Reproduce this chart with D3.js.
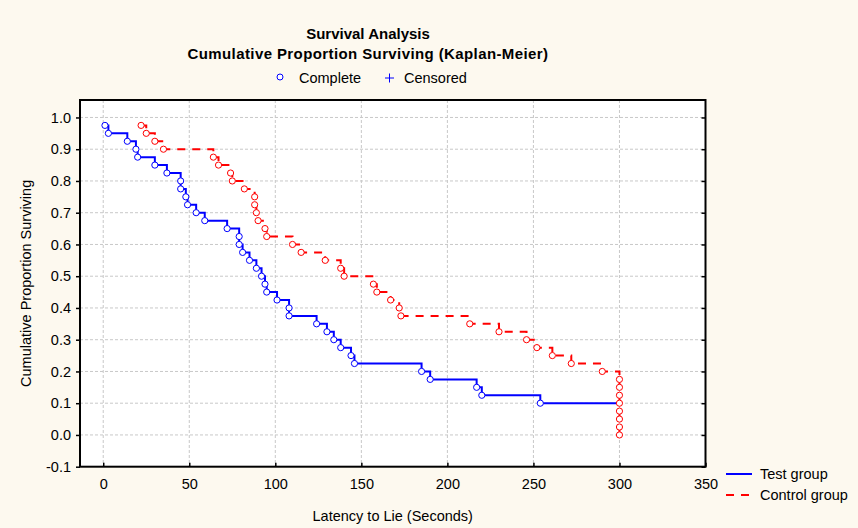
<!DOCTYPE html>
<html>
<head>
<meta charset="utf-8">
<script src="https://cdn.jsdelivr.net/npm/d3@7"></script>
<style>
  body { margin: 0; background: #fdf9ef; }
  svg { display: block; font-family: "Liberation Sans", Arial, sans-serif; }
</style>
</head>
<body>
<div id="chart"></div>
<script>
// event times (seconds) and cumulative proportion surviving
const testTimes = [1, 3, 14, 19, 20, 30, 37, 45, 45, 48, 49, 54, 59, 72, 79, 79, 81, 85, 89, 92,
    94, 95, 101, 108, 108, 124, 130, 134, 138, 144, 146, 185, 190, 217, 220, 254];
const testSurv = [0.975, 0.95, 0.925, 0.9, 0.875, 0.85, 0.825, 0.8, 0.775, 0.75, 0.725, 0.7, 0.675,
    0.65, 0.625, 0.6, 0.575, 0.55, 0.525, 0.5, 0.475, 0.45, 0.425, 0.4, 0.375, 0.35, 0.325, 0.3,
    0.275, 0.25, 0.225, 0.2, 0.175, 0.15, 0.125, 0.1];
const testEnd = [300, 0.1];

const controlTimes = [22, 25, 30, 35, 64, 67, 74, 75, 82, 88, 88, 89, 90, 94, 95, 110, 115, 129, 138, 140,
    157, 159, 167, 172, 173, 213, 230, 246, 252, 261, 272, 290, 300, 300, 300, 300, 300, 300, 300, 300];
const controlSurv = [0.975, 0.95, 0.925, 0.9, 0.875, 0.85, 0.825, 0.8, 0.775, 0.75, 0.725, 0.7, 0.675,
    0.65, 0.625, 0.6, 0.575, 0.55, 0.525, 0.5, 0.475, 0.45, 0.425, 0.4, 0.375, 0.35, 0.325, 0.3,
    0.275, 0.25, 0.225, 0.2, 0.175, 0.15, 0.125, 0.1, 0.075, 0.05, 0.025, 0.0];

const xTicks = [0, 50, 100, 150, 200, 250, 300, 350];
const yTicks = [-0.1, 0.0, 0.1, 0.2, 0.3, 0.4, 0.5, 0.6, 0.7, 0.8, 0.9, 1.0];

const width = 858, height = 528;
const plot = { left: 80, right: 705.5, top: 100, bottom: 466.7 };

const svg = d3.select("#chart").append("svg")
    .attr("width", width)
    .attr("height", height);

const x = d3.scaleLinear().domain([-13.5, 350]).range([plot.left, plot.right]);
const y = d3.scaleLinear().domain([-0.1, 1.055]).range([plot.bottom, plot.top]);

// plot background
svg.append("rect")
    .attr("x", plot.left).attr("y", plot.top)
    .attr("width", plot.right - plot.left).attr("height", plot.bottom - plot.top)
    .attr("fill", "#fff");

// grid
svg.append("g").selectAll("line")
    .data(xTicks.filter(d => d < 350))
    .enter().append("line")
    .attr("x1", d => x(d)).attr("x2", d => x(d))
    .attr("y1", plot.top).attr("y2", plot.bottom)
    .attr("stroke", "#c8c8c8").attr("stroke-dasharray", "3,2");
svg.append("g").selectAll("line")
    .data(yTicks.filter(d => d > -0.1))
    .enter().append("line")
    .attr("y1", d => y(d)).attr("y2", d => y(d))
    .attr("x1", plot.left).attr("x2", plot.right)
    .attr("stroke", "#c8c8c8").attr("stroke-dasharray", "3,2");

// axes
const fmt = d => d.toFixed(1);
const yAxis = svg.append("g")
    .attr("transform", "translate(" + plot.left + ",0)")
    .call(d3.axisLeft(y).tickValues(yTicks).tickFormat(fmt).tickSize(4).tickPadding(5));
const yAxisR = svg.append("g")
    .attr("transform", "translate(" + plot.right + ",0)")
    .call(d3.axisLeft(y).tickValues(yTicks).tickFormat("").tickSize(4));
const xAxis = svg.append("g")
    .attr("transform", "translate(0," + plot.bottom + ")")
    .call(d3.axisTop(x).tickValues(xTicks).tickFormat("").tickSize(4));
svg.append("g")
    .attr("transform", "translate(0," + plot.bottom + ")")
    .call(d3.axisBottom(x).tickValues(xTicks).tickSize(0).tickPadding(12))
    .call(g => g.select(".domain").remove());

[yAxis, yAxisR, xAxis].forEach(g => {
    g.select(".domain").remove();
    g.selectAll(".tick line").attr("stroke", "#000").attr("stroke-width", 1.5);
});
svg.selectAll(".tick text").attr("font-size", 14.5).attr("fill", "#000")
    .attr("font-family", "'Liberation Sans', Arial, sans-serif");

// frame
svg.append("rect")
    .attr("x", plot.left).attr("y", plot.top)
    .attr("width", plot.right - plot.left).attr("height", plot.bottom - plot.top)
    .attr("fill", "none").attr("stroke", "#000").attr("stroke-width", 2);

// curves
const line = d3.line()
    .x(d => x(d[0]))
    .y(d => y(d[1]))
    .curve(d3.curveStepAfter);

const testPts = testTimes.map((t, i) => [t, testSurv[i]]);
const controlPts = controlTimes.map((t, i) => [t, controlSurv[i]]);

svg.append("path")
    .datum(testPts.concat([testEnd]))
    .attr("fill", "none")
    .attr("stroke", "#0000ff")
    .attr("stroke-width", 2)
    .attr("d", line);

svg.append("path")
    .datum(controlPts)
    .attr("fill", "none")
    .attr("stroke", "#ff0000")
    .attr("stroke-width", 2)
    .attr("stroke-dasharray", "8,7")
    .attr("d", line);

svg.append("g").selectAll("circle")
    .data(testPts)
    .enter().append("circle")
    .attr("cx", d => x(d[0])).attr("cy", d => y(d[1]))
    .attr("r", 3.1)
    .attr("fill", "#fff").attr("stroke", "#0000ff").attr("stroke-width", 1);

svg.append("g").selectAll("circle")
    .data(controlPts)
    .enter().append("circle")
    .attr("cx", d => x(d[0])).attr("cy", d => y(d[1]))
    .attr("r", 3.1)
    .attr("fill", "#fff").attr("stroke", "#ff0000").attr("stroke-width", 1);

// titles
svg.append("text")
    .attr("x", 368).attr("y", 39)
    .attr("text-anchor", "middle")
    .attr("font-size", 15).attr("font-weight", "bold")
    .text("Survival Analysis");
svg.append("text")
    .attr("x", 368).attr("y", 59)
    .attr("text-anchor", "middle")
    .attr("font-size", 15).attr("font-weight", "bold")
    .attr("letter-spacing", 0.4)
    .text("Cumulative Proportion Surviving (Kaplan-Meier)");

// marker legend
svg.append("circle")
    .attr("cx", 280).attr("cy", 77).attr("r", 3)
    .attr("fill", "#fff").attr("stroke", "#0000ff");
svg.append("text")
    .attr("x", 299).attr("y", 83)
    .attr("font-size", 14.5)
    .text("Complete");
svg.append("path")
    .attr("d", "M385,78H394M389.5,73.5V82.5")
    .attr("stroke", "#0000ff").attr("stroke-width", 1);
svg.append("text")
    .attr("x", 404).attr("y", 83)
    .attr("font-size", 14.5)
    .text("Censored");

// axis titles
svg.append("text")
    .attr("transform", "translate(31," + ((plot.top + plot.bottom) / 2) + ") rotate(-90)")
    .attr("text-anchor", "middle")
    .attr("font-size", 14.5)
    .text("Cumulative Proportion Surviving");
svg.append("text")
    .attr("x", (plot.left + plot.right) / 2).attr("y", 521)
    .attr("text-anchor", "middle")
    .attr("font-size", 14.5)
    .text("Latency to Lie (Seconds)");

// series legend
const legend = [
    { name: "Test group", color: "#0000ff", dash: null, y: 474 },
    { name: "Control group", color: "#ff0000", dash: "8,7", y: 495 }
];
legend.forEach(d => {
    svg.append("line")
        .attr("x1", 726).attr("x2", 752)
        .attr("y1", d.y).attr("y2", d.y)
        .attr("stroke", d.color).attr("stroke-width", 2)
        .attr("stroke-dasharray", d.dash);
    svg.append("text")
        .attr("x", 760).attr("y", d.y + 5)
        .attr("font-size", 14.5)
        .text(d.name);
});
</script>
</body>
</html>
